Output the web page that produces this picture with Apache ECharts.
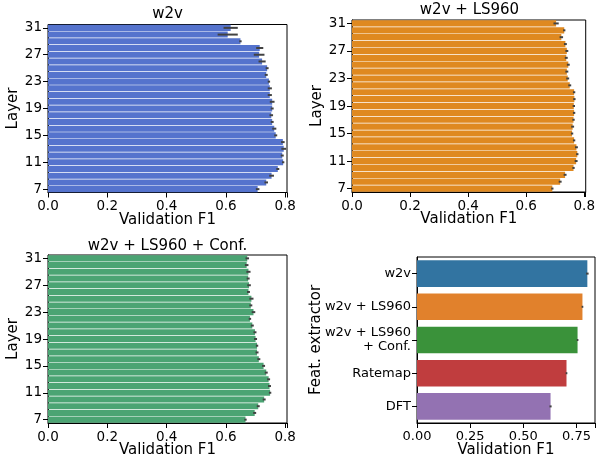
<!DOCTYPE html>
<html>
<head>
<meta charset="utf-8">
<script src="https://cdn.jsdelivr.net/npm/echarts@6/dist/echarts.min.js"></script>
<style>
  html, body { margin: 0; padding: 0; background: #fff; }
  #chart { width: 598px; height: 459px; }
</style>
</head>
<body>
<div id="chart"></div>
<script>
// layers 7..31, bottom to top
const layers = ['7', '8', '9', '10', '11', '12', '13', '14', '15', '16', '17', '18', '19',
  '20', '21', '22', '23', '24', '25', '26', '27', '28', '29', '30', '31'];

const w2vF1 = [0.707, 0.736, 0.754, 0.775, 0.793, 0.790, 0.795, 0.792, 0.768, 0.763, 0.756, 0.753, 0.756,
  0.756, 0.748, 0.748, 0.745, 0.736, 0.739, 0.722, 0.712, 0.714, 0.649, 0.606, 0.616];
const w2vErr = [0.006, 0.006, 0.008, 0.005, 0.004, 0.005, 0.008, 0.006, 0.005, 0.007, 0.005, 0.006, 0.005,
  0.008, 0.007, 0.007, 0.004, 0.005, 0.005, 0.012, 0.018, 0.012, 0.004, 0.034, 0.024];

const ls960F1 = [0.690, 0.717, 0.734, 0.763, 0.772, 0.776, 0.773, 0.765, 0.758, 0.760, 0.763, 0.765, 0.764,
  0.766, 0.765, 0.750, 0.743, 0.740, 0.745, 0.738, 0.740, 0.735, 0.721, 0.731, 0.703];
const ls960Err = [0.004, 0.005, 0.005, 0.004, 0.005, 0.004, 0.005, 0.004, 0.004, 0.005, 0.004, 0.004, 0.004,
  0.004, 0.004, 0.005, 0.005, 0.005, 0.005, 0.005, 0.005, 0.005, 0.006, 0.004, 0.009];

const confF1 = [0.666, 0.697, 0.709, 0.729, 0.749, 0.747, 0.744, 0.736, 0.727, 0.711, 0.705, 0.705, 0.700,
  0.698, 0.689, 0.681, 0.693, 0.684, 0.686, 0.676, 0.678, 0.675, 0.676, 0.670, 0.672];
const confErr = [0.004, 0.005, 0.005, 0.005, 0.004, 0.005, 0.005, 0.005, 0.005, 0.005, 0.005, 0.004, 0.005,
  0.005, 0.005, 0.004, 0.006, 0.005, 0.007, 0.005, 0.006, 0.005, 0.007, 0.006, 0.006];

const extractors = ['w2v', 'w2v + LS960', 'w2v + LS960\n+ Conf.', 'Ratemap', 'DFT'];
const extractorF1 = [0.801, 0.778, 0.755, 0.703, 0.628];
const extractorErr = [0.006, 0.004, 0.004, 0.004, 0.005];

const titles = ['w2v', 'w2v + LS960', 'w2v + LS960 + Conf.'];
const panelColors = ['#5573cd', '#df8920', '#4ba473'];
const extractorColors = ['#3274a1', '#e1812c', '#3a923a', '#c03d3e', '#9372b2'];

const FONT = 'DejaVu Sans';
const grids = [
  { left: 48, top: 24.5, width: 239, height: 168 },
  { left: 352, top: 20, width: 235, height: 172 },
  { left: 48, top: 255, width: 239, height: 168 },
  { left: 417, top: 257, width: 180, height: 169 },
];

const chart = echarts.init(document.getElementById('chart'), null, { renderer: 'canvas' });

function valueAxis(i, max, step, digits, size, gap) {
  return {
    type: 'value', gridIndex: i, min: 0, max: max, interval: step,
    name: 'Validation F1', nameLocation: 'middle', nameGap: gap, nameMoveOverlap: false,
    nameTextStyle: { fontFamily: FONT, fontSize: 15, color: '#000' },
    axisLine: { show: true, lineStyle: { color: '#000', width: 1 } },
    axisTick: { show: true, length: 5, lineStyle: { color: '#000' } },
    axisLabel: {
      fontFamily: FONT, fontSize: size, color: '#000', margin: 7,
      formatter(v) {
        const k = v / step;
        return Math.abs(k - Math.round(k)) < 1e-6 ? v.toFixed(digits) : '';
      },
    },
    splitLine: { show: false },
  };
}

function layerAxis(i) {
  return {
    type: 'category', gridIndex: i, data: layers,
    name: 'Layer', nameLocation: 'middle', nameGap: 27,
    nameTextStyle: { fontFamily: FONT, fontSize: 15, color: '#000' },
    axisLine: { show: true, lineStyle: { color: '#000', width: 1 } },
    axisTick: { show: true, interval: 3, alignWithLabel: true, length: 5, lineStyle: { color: '#000' } },
    axisLabel: { interval: 3, fontFamily: FONT, fontSize: 13.5, color: '#000', margin: 6 },
  };
}

function errorBars(i, vals, errs) {
  return {
    type: 'custom', xAxisIndex: i, yAxisIndex: i, z: 5, silent: true,
    data: vals.map((v, k) => [v, k, errs[k]]),
    encode: { x: 0, y: 1 },
    renderItem(params, api) {
      const y = api.value(1);
      const a = api.coord([api.value(0) - api.value(2), y]);
      const b = api.coord([api.value(0) + api.value(2), y]);
      return {
        type: 'line',
        shape: { x1: a[0], y1: a[1], x2: b[0], y2: b[1] },
        style: { stroke: '#424242', lineWidth: 2 },
      };
    },
  };
}

const panelData = [[w2vF1, w2vErr], [ls960F1, ls960Err], [confF1, confErr]];

const series = [];
panelData.forEach((d, i) => {
  series.push({
    type: 'bar', xAxisIndex: i, yAxisIndex: i, data: d[0],
    barCategoryGap: '10%', itemStyle: { color: panelColors[i] },
  });
  series.push(errorBars(i, d[0], d[1]));
});
series.push({
  type: 'bar', xAxisIndex: 3, yAxisIndex: 3, barCategoryGap: '20%',
  data: extractorF1.map((v, k) => ({ value: v, itemStyle: { color: extractorColors[k] } })),
});
series.push(errorBars(3, extractorF1, extractorErr));

const titleCenters = [[167.5, 7], [469.5, 3], [167.5, 239]];

const option = {
  animation: false,
  backgroundColor: '#fff',
  grid: grids.map((g) => ({ ...g, show: true, borderColor: '#000', borderWidth: 1, containLabel: false })),
  xAxis: [
    valueAxis(0, 0.806, 0.2, 1, 13.5, 20),
    valueAxis(1, 0.805, 0.2, 1, 13.5, 20),
    valueAxis(2, 0.806, 0.2, 1, 13.5, 20),
    valueAxis(3, 0.837, 0.25, 2, 13, 20),
  ],
  yAxis: [
    layerAxis(0),
    layerAxis(1),
    layerAxis(2),
    {
      type: 'category', gridIndex: 3, data: extractors, inverse: true,
      name: 'Feat. extractor', nameLocation: 'middle', nameGap: 93, nameMoveOverlap: false,
      nameTextStyle: { fontFamily: FONT, fontSize: 15, color: '#000' },
      axisLine: { show: true, lineStyle: { color: '#000', width: 1 } },
      axisTick: { show: true, alignWithLabel: true, length: 5, lineStyle: { color: '#000' } },
      axisLabel: { interval: 0, fontFamily: FONT, fontSize: 13, color: '#000', margin: 6, lineHeight: 14, align: 'right' },
    },
  ],
  graphic: titles.map((t, i) => ({
    type: 'text', x: titleCenters[i][0], y: titleCenters[i][1],
    style: { text: t, textAlign: 'center', textVerticalAlign: 'top', font: '15px "DejaVu Sans"', fill: '#000' },
  })),
  series: series,
};

chart.setOption(option);
</script>
</body>
</html>
